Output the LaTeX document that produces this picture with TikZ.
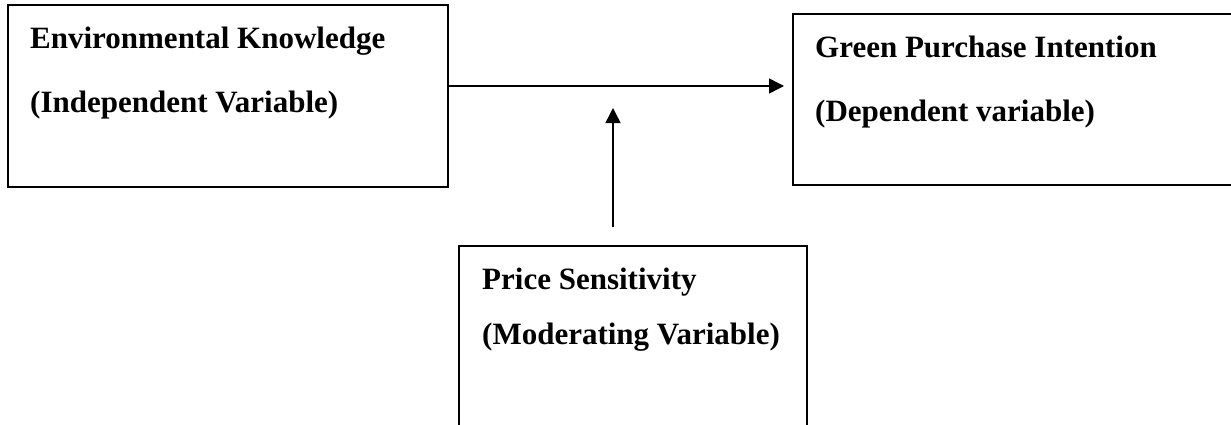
\documentclass[tikz,border=0pt]{standalone}
\usepackage{fontspec}
\setmainfont{Liberation Serif}
\usetikzlibrary{arrows.meta}
\begin{document}
\begin{tikzpicture}[x=1pt,y=-1pt,
  box/.style={draw=black,line width=2.2pt,rectangle,inner sep=0pt},
  lbl/.style={anchor=base west,inner sep=0pt,font=\fontsize{31}{37}\selectfont\bfseries},
  arr/.style={line width=1.5pt,-{Triangle[length=15pt,width=15pt]}}]
\useasboundingbox (0,0) rectangle (1231,424);
% boxes
\node[box,minimum width=440pt,minimum height=182pt] (ek) at (228,96) {};
\node[box,minimum width=450pt,minimum height=171pt] (gp) at (1018,99.5) {};
\node[box,minimum width=348pt,minimum height=200pt] (ps) at (633,346) {};
% labels
\node[lbl] (ek1) at (30,48) {Environmental Knowledge};
\node[lbl] (ek2) at (30,112) {(Independent Variable)};
\node[lbl] (gp1) at (815,57) {Green Purchase Intention};
\node[lbl] (gp2) at (815,121) {(Dependent variable)};
\node[lbl] (ps1) at (482,289) {Price Sensitivity};
\node[lbl] (ps2) at (482,344) {(Moderating Variable)};
% connectors
\coordinate (hEnd) at (784,86);
\coordinate (vTip) at (613,108);
\coordinate (vStart) at (613,227);
\draw[arr] (ek.east |- hEnd) -- (hEnd);
\draw[arr] (vStart) -- (vTip);
\end{tikzpicture}
\end{document}
